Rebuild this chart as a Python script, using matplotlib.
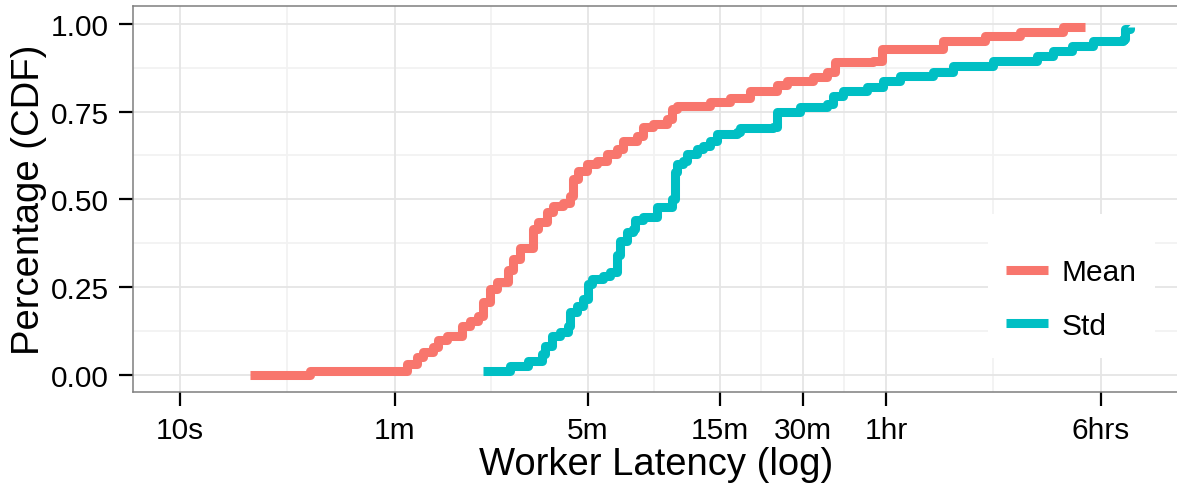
import numpy as np
import matplotlib
matplotlib.use("Agg")
import matplotlib.pyplot as plt

plt.rcParams['font.family'] = ['Liberation Sans', 'DejaVu Sans']

# step points of the two CDFs: latency in seconds, cumulative fraction
mean_x = [17.9, 29.6, 66.4, 72.1, 75.8, 82.4, 85.9, 92.6, 105.0, 112.2, 120.0,
          125.1, 132.6, 140.5, 154.0, 160.6, 170.2, 189.7, 197.8, 213.2, 224.1,
          243.6, 258.2, 264.8, 276.1, 297.6, 323.6, 351.6, 382.2, 401.8, 451.4,
          474.6, 515.8, 579.8, 604.5, 630.2, 829.6, 979.8, 1158, 1450, 1577,
          1958, 2201, 2353, 3229, 3480, 5788, 8214, 11000, 15740, 18910]
mean_y = [0.000, 0.011, 0.030, 0.050, 0.065, 0.080, 0.100, 0.110, 0.140, 0.154,
          0.168, 0.208, 0.245, 0.265, 0.300, 0.330, 0.360, 0.416, 0.435, 0.464,
          0.480, 0.490, 0.510, 0.558, 0.580, 0.600, 0.610, 0.630, 0.644, 0.667,
          0.680, 0.705, 0.715, 0.730, 0.758, 0.766, 0.778, 0.790, 0.810, 0.826,
          0.838, 0.849, 0.863, 0.890, 0.895, 0.929, 0.950, 0.966, 0.977, 0.992,
          0.992]

std_x = [125.1, 156.6, 182.0, 204.5, 209.7, 222.3, 237.6, 254.1, 258.2, 273.8,
         287.8, 300.1, 310.2, 340.1, 360.6, 382.2, 391.7, 415.3, 436.6, 444.0,
         474.6, 533.3, 604.5, 619.8, 630.2, 662.4, 684.9, 744.3, 782.5, 829.6,
         879.7, 1039, 1065, 1403, 1450, 1757, 2201, 2314, 2515, 3071, 3510,
         4045, 5325, 6290, 8780, 12670, 14480, 16960, 20220, 25960, 26400, 27510]
std_y = [0.011, 0.026, 0.040, 0.060, 0.083, 0.110, 0.122, 0.140, 0.180, 0.197,
         0.216, 0.260, 0.274, 0.282, 0.293, 0.340, 0.380, 0.407, 0.416, 0.440,
         0.450, 0.478, 0.500, 0.578, 0.600, 0.610, 0.630, 0.644, 0.652, 0.667,
         0.687, 0.692, 0.703, 0.706, 0.750, 0.764, 0.772, 0.795, 0.810, 0.820,
         0.838, 0.852, 0.863, 0.880, 0.895, 0.909, 0.923, 0.937, 0.951, 0.957,
         0.986, 0.991]

x_breaks = [10, 60, 300, 900, 1800, 3600, 21600]
x_labels = ['10s', '1m', '5m', '15m', '30m', '1hr', '6hrs']
y_breaks = [0.0, 0.25, 0.5, 0.75, 1.0]
y_labels = ['0.00', '0.25', '0.50', '0.75', '1.00']

fig = plt.figure(figsize=(11.77, 4.85), dpi=100)
ax = fig.add_axes([0.1127, 0.1897, 0.8890, 0.7959])

ax.set_xscale('log')
ax.set_xlim(6.75, 41400)
ax.set_ylim(-0.049, 1.051)

# grid: minor lines half way between majors (log space)
xb = np.array(x_breaks, dtype=float)
x_minor = np.sqrt(xb[:-1] * xb[1:])
y_minor = [0.125, 0.375, 0.625, 0.875]
for v in x_minor:
    ax.axvline(v, color='#F2F2F2', lw=1.3, zorder=0)
for v in y_minor:
    ax.axhline(v, color='#F2F2F2', lw=1.3, zorder=0)
for v in x_breaks:
    ax.axvline(v, color='#E5E5E5', lw=1.3, zorder=0)
for v in y_breaks:
    ax.axhline(v, color='#E5E5E5', lw=1.3, zorder=0)

ax.plot(mean_x, mean_y, drawstyle='steps-post', color='#F8766D', lw=6.5,
        solid_joinstyle='round', solid_capstyle='butt', label='Mean', zorder=3)
ax.plot(std_x, std_y, drawstyle='steps-post', color='#00BFC4', lw=6.5,
        solid_joinstyle='round', solid_capstyle='butt', label='Std', zorder=3)

ax.set_xticks(x_breaks)
ax.set_xticklabels(x_labels)
ax.xaxis.set_minor_locator(matplotlib.ticker.NullLocator())
ax.set_yticks(y_breaks)
ax.set_yticklabels(y_labels)
ax.tick_params(axis='both', which='major', length=10, width=1.6, color='black',
               labelsize=21.5, labelcolor='black')
ax.tick_params(axis='x', pad=7)
ax.tick_params(axis='y', pad=7)

for s in ax.spines.values():
    s.set_color('#7F7F7F')
    s.set_linewidth(1.1)

ax.set_xlabel('Worker Latency (log)', fontsize=27.5, labelpad=2)
ax.set_ylabel('Percentage (CDF)', fontsize=27.5, labelpad=3)

# blank title keeps the empty band above the keys
leg = ax.legend(loc='upper left', bbox_to_anchor=(988 / 1177, 1 - 215 / 485),
                bbox_transform=fig.transFigure, fontsize=21.5, frameon=True,
                fancybox=False, edgecolor='none', facecolor='white',
                framealpha=1.0, handlelength=1.42, handletextpad=0.45,
                labelspacing=0.85, borderpad=0.6, borderaxespad=0,
                title=' ', title_fontsize=1)

fig.savefig('out.png', dpi=100)
